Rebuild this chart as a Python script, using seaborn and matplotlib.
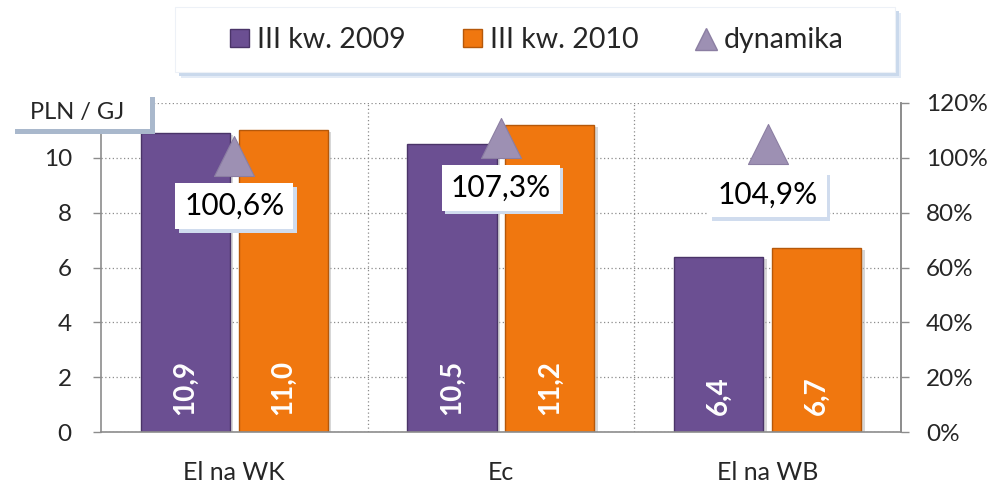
import numpy as np
import pandas as pd
import matplotlib.pyplot as plt
import matplotlib.patheffects as pe
import seaborn as sns
from matplotlib.patches import Patch, Rectangle
from matplotlib.lines import Line2D

# data
categories = ['El na WK', 'Ec', 'El na WB']
series_names = ['III kw. 2009', 'III kw. 2010']
q3_2009 = [10.9, 10.5, 6.4]
q3_2010 = [11.0, 11.2, 6.7]
dynamics = [100.6, 107.3, 104.9]
y_ticks = [0, 2, 4, 6, 8, 10, 12]
pct_ticks = [0, 20, 40, 60, 80, 100, 120]

PURPLE = '#6b4f92'
ORANGE = '#f0770f'
TRIANGLE = '#9d90b3'
GREY = '#8c8c8c'

df = pd.DataFrame({
    'category': categories * 2,
    'series': [series_names[0]] * 3 + [series_names[1]] * 3,
    'value': q3_2009 + q3_2010,
})

sns.set_style('white')
plt.rcParams['font.family'] = ['Lato', 'DejaVu Sans']

fig = plt.figure(figsize=(9.9, 4.9), dpi=100)
ax = fig.add_axes([0.102, 0.118, 0.808, 0.672])

sns.barplot(data=df, x='category', y='value', hue='series',
            palette=[PURPLE, ORANGE], width=0.734, gap=0.09,
            edgecolor='none', saturation=1, legend=False, ax=ax)

# darker outline and soft shadow per series
for cont, edge in zip(ax.containers, ['#4a3468', '#b5580a']):
    for p in cont:
        p.set_edgecolor(edge)
        p.set_linewidth(1.0)
        p.set_path_effects([
            pe.SimplePatchShadow(offset=(2.5, -1.5), shadow_rgbFace='#b0b0b0', alpha=0.5),
            pe.Normal()])

# value labels inside the bars
for cont in ax.containers:
    for p in cont:
        x = p.get_x() + p.get_width() / 2
        v = p.get_height()
        ax.text(x, 0.62, f'{v:.1f}'.replace('.', ','), rotation=90,
                ha='center', va='bottom', color='white',
                fontsize=20, fontweight='bold', zorder=5)

ax.set_xlim(-0.5, 2.5)
ax.set_ylim(0, 12)
ax.set_yticks(y_ticks)
ax.set_yticklabels([str(t) for t in y_ticks[:-1]] + [''])
ax.set_xticks(range(len(categories)))
ax.set_xticklabels(categories)
ax.set_xticks([-0.5, 0.5, 1.5, 2.5], minor=True)
ax.set_xlabel('')
ax.set_ylabel('')

ax.set_axisbelow(True)
ax.yaxis.grid(True, linestyle=(0, (1, 2)), color=GREY, linewidth=0.9)
for xb in [0.5, 1.5]:
    ax.axvline(xb, linestyle=(0, (1, 2)), color=GREY, linewidth=0.9, zorder=0)

for side in ['left', 'bottom', 'right']:
    ax.spines[side].set_color(GREY)
    ax.spines[side].set_linewidth(1.2)
ax.spines['top'].set_visible(False)

ax.tick_params(axis='x', which='major', length=0, pad=21, labelsize=18)
ax.tick_params(axis='x', which='minor', length=8, width=1.2, color=GREY, direction='out')
ax.tick_params(axis='y', length=6, width=1.0, color=GREY, direction='out',
               pad=15, labelsize=17.5, left=True)

# dynamics on the secondary axis
ax2 = ax.twinx()
sns.scatterplot(x=np.arange(len(categories)), y=dynamics, marker='^', s=830,
                color=TRIANGLE, edgecolor='#8b7ea2', linewidth=0.8,
                legend=False, ax=ax2, zorder=4)
for i, d in enumerate(dynamics):
    t = ax2.annotate(f'{d:.1f}%'.replace('.', ','), xy=(i, d), xytext=(0, -36),
                     textcoords='offset points', ha='center', va='center',
                     fontsize=21.5, color='black', zorder=6,
                     bbox=dict(boxstyle='square,pad=0.3', facecolor='white',
                               edgecolor='none'))
    t.get_bbox_patch().set_path_effects([
        pe.SimplePatchShadow(offset=(2.5, -2.5), shadow_rgbFace='#d0dcee', alpha=1),
        pe.Normal()])

ax2.set_ylim(0, 120)
ax2.set_yticks(pct_ticks)
ax2.set_yticklabels([f'{t}%' for t in pct_ticks])
ax2.set_ylabel('')
ax2.set_xlim(-0.5, 2.5)
for side in ['left', 'bottom', 'top']:
    ax2.spines[side].set_visible(False)
ax2.spines['right'].set_color(GREY)
ax2.spines['right'].set_linewidth(1.2)
ax2.tick_params(axis='y', length=6, width=1.0, color=GREY, direction='out',
                pad=12, labelsize=17.5, right=True)

# unit box in the top-left corner
fig.patches.append(Rectangle((15 / 990, 1 - 134 / 490), 140 / 990, 37 / 490,
                             transform=fig.transFigure, facecolor='#a9b8cc',
                             edgecolor='none', zorder=2))
fig.patches.append(Rectangle((10 / 990, 1 - 129 / 490), 140 / 990, 34 / 490,
                             transform=fig.transFigure, facecolor='white',
                             edgecolor='none', zorder=3))
fig.text(77 / 990, 1 - 113 / 490, 'PLN / GJ', ha='center', va='center',
         fontsize=17, zorder=4)

# legend frame with a soft blue shadow
for off, col in [(6, '#e3ebf6'), (4, '#cad9ec')]:
    fig.patches.append(Rectangle(((175 + off) / 990, 1 - (72 + off) / 490), 720 / 990, 65 / 490,
                                 transform=fig.transFigure, facecolor=col,
                                 edgecolor='none', zorder=1))
fig.patches.append(Rectangle((175 / 990, 1 - 72 / 490), 720 / 990, 65 / 490,
                             transform=fig.transFigure, facecolor='white',
                             edgecolor='#edf1f7', linewidth=0.8, zorder=2))

handles = [
    Patch(facecolor=PURPLE, edgecolor='#4a3468'),
    Patch(facecolor=ORANGE, edgecolor='#b5580a'),
    Line2D([], [], marker='^', linestyle='none', markersize=16.5,
           markerfacecolor=TRIANGLE, markeredgecolor='#8b7ea2'),
]
leg = fig.legend(handles, series_names + ['dynamika'], loc='center',
                 bbox_to_anchor=(0.542, 0.918), ncol=3, fontsize=20.5,
                 frameon=False, handlelength=0.67, handleheight=0.63,
                 handletextpad=0.3, columnspacing=2.0, borderpad=0.2)
leg.set_zorder(5)

fig.savefig('out.png', dpi=100)
plt.close(fig)
